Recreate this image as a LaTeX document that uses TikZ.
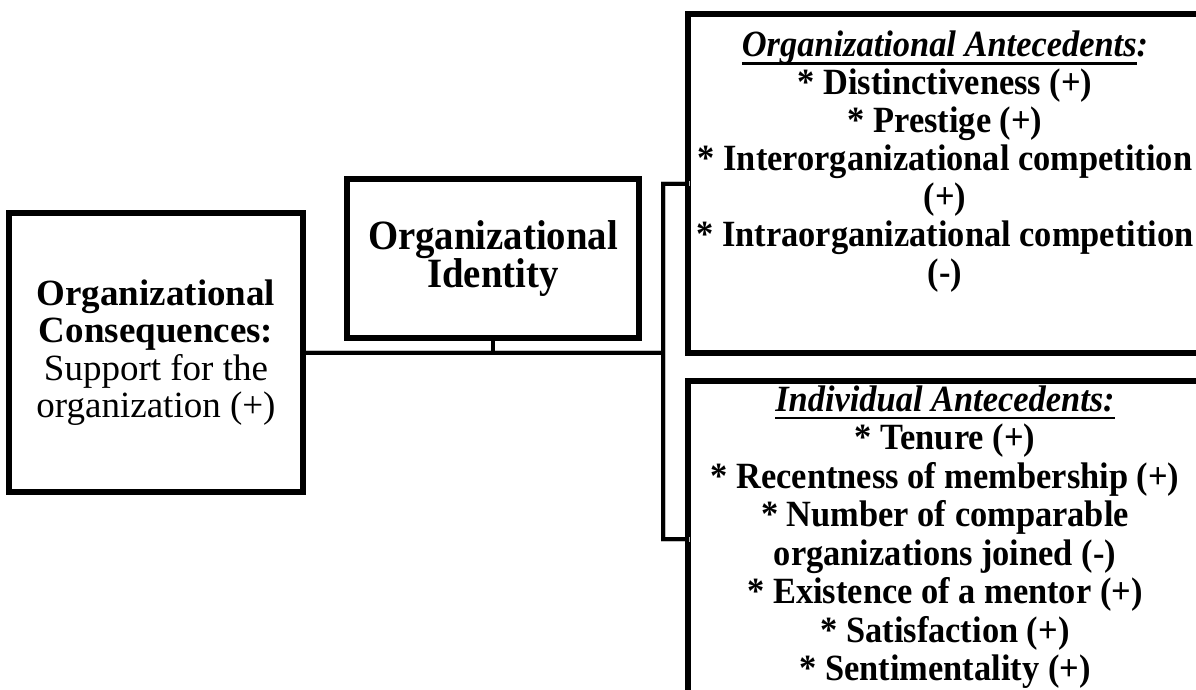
\documentclass[tikz,border=0pt]{standalone}
\usepackage{fontspec}
\setmainfont{Liberation Serif}
% underlined heading with a thick rule
\newcommand\headline[1]{\setbox0=\hbox{#1}\rlap{\rule[-8pt]{\wd0}{2.6pt}}\box0}

\tikzset{
  box/.style={draw=black, line width=4pt, fill=white, inner sep=0pt},
  conn/.style={draw=black, line width=4pt, line cap=rect, line join=miter},
  connshade/.style={draw=black!25, line width=5pt, line cap=rect, line join=miter, shift={(2pt,-3pt)}},
  consfont/.style={font=\fontsize{37}{37.3}\selectfont, align=center},
  identfont/.style={font=\bfseries\fontsize{41.7}{38.5}\selectfont, align=center},
  antfont/.style={font=\bfseries\fontsize{37}{38}\selectfont, align=center},
  indfont/.style={font=\bfseries\fontsize{37}{38.5}\selectfont, align=center},
  narrow/.style={xscale=0.93, transform shape},
}

\begin{document}
\begin{tikzpicture}[x=1pt,y=-1pt]
  % page frame; the right-hand boxes run past its edges
  \useasboundingbox (0,0) rectangle (1196,689);

  % consequence box on the left
  \node[box, consfont, minimum width=292pt, minimum height=277pt] (cons) at (156,352.5)
    {\textbf{Organizational}\\\textbf{Consequences:}\\Support for the\\organization (+)};

  % identity box in the middle
  \node[box, minimum width=290pt, minimum height=157pt] (ident) at (493,258.5) {};
  \begin{scope}[shift={(ident.center)}, narrow]
    \node[identfont] (identtxt) at (0,0) {Organizational\\Identity};
  \end{scope}

  % antecedent boxes on the right
  \node[box, minimum width=516pt, minimum height=337pt, anchor=north west] (organt) at (687,13) {};
  \begin{scope}[shift={(945,162)}, narrow]
    \node[antfont] (orgtxt) at (0,0)
      {\headline{\itshape Organizational Antecedents}\textit{:}\\
       * Distinctiveness (+)\\
       * Prestige (+)\\
       * Interorganizational competition\\
       (+)\\
       * Intraorganizational competition\\
       (-)};
  \end{scope}

  \node[box, minimum width=516pt, minimum height=314pt, anchor=north west] (indant) at (687,380) {};
  \begin{scope}[shift={(945,537)}, narrow]
    \node[indfont] (indtxt) at (0,0)
      {\headline{\itshape Individual Antecedents:}\\
       * Tenure (+)\\
       * Recentness of membership (+)\\
       * Number of comparable\\
       organizations joined (-)\\
       * Existence of a mentor (+)\\
       * Satisfaction (+)\\
       * Sentimentality (+)};
  \end{scope}

  % connector spine
  \coordinate (spine) at (663,352.5);

  % soft shade under the connectors
  \draw[connshade] (cons.east) -- (spine);
  \draw[connshade] (organt.west) -| (spine) |- (indant.west);

  % connectors
  \draw[conn] (cons.east) -- (spine);
  \draw[conn] (ident.south) -- (ident.south |- spine);
  \draw[conn] (organt.west) -| (spine) |- (indant.west);

  % box borders drawn over the shading
  \draw[line width=4pt] (cons.north west) rectangle (cons.south east);
  \draw[line width=4pt] (ident.north west) rectangle (ident.south east);
  \draw[line width=4pt] (organt.north west) rectangle (organt.south east);
  \draw[line width=4pt] (indant.north west) rectangle (indant.south east);
\end{tikzpicture}
\end{document}
